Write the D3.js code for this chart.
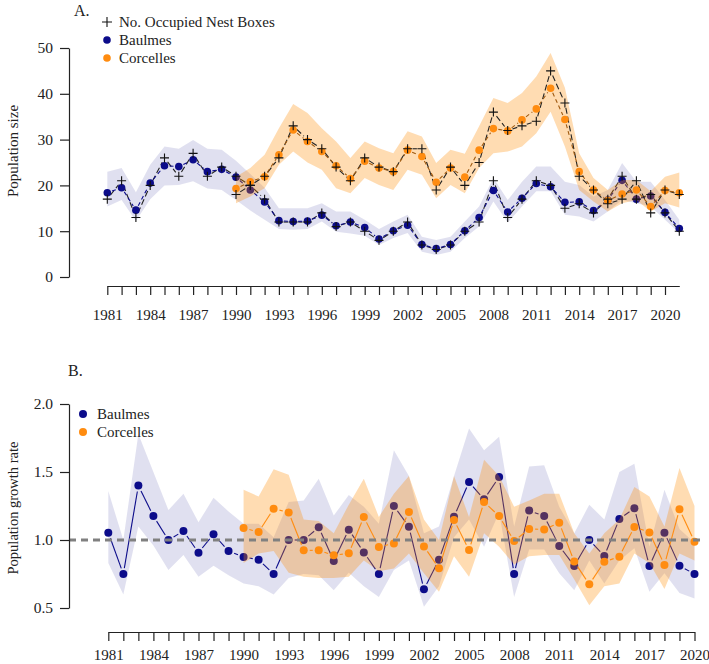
<!DOCTYPE html>
<html>
<head>
<meta charset="utf-8">
<script src="https://cdn.jsdelivr.net/npm/d3@7"></script>
<style>
  body { margin: 0; background: #fff; }
  svg { display: block; font-family: "Liberation Serif", "Times New Roman", serif; }
</style>
</head>
<body>
<div id="chart"></div>
<script>
// panel A: population size, 1981-2021
var yearsA = [1981, 1982, 1983, 1984, 1985, 1986, 1987, 1988, 1989, 1990,
  1991, 1992, 1993, 1994, 1995, 1996, 1997, 1998, 1999, 2000,
  2001, 2002, 2003, 2004, 2005, 2006, 2007, 2008, 2009, 2010,
  2011, 2012, 2013, 2014, 2015, 2016, 2017, 2018, 2019, 2020, 2021];
var yearsCorcA = yearsA.slice(9);

var baulmesA = [18.4, 19.5, 14.6, 20.5, 24.3, 24.1, 25.6, 23.0, 23.5, 21.8,
  19.0, 16.4, 12.3, 12.1, 12.2, 13.5, 11.2, 12.0, 10.8, 8.3,
  10.1, 11.3, 7.1, 6.2, 7.1, 10.1, 13.0, 18.9, 14.2, 17.2,
  20.4, 19.7, 16.3, 16.4, 14.5, 16.8, 21.1, 17.0, 17.7, 14.1, 10.6];
var baulmesLoA = [15.4, 16.8, 12.2, 17.0, 20.0, 20.1, 20.9, 19.3, 19.0, 16.8,
  14.5, 12.5, 10.5, 10.3, 10.5, 12.1, 9.9, 9.5, 9.0, 7.0,
  8.5, 9.6, 5.5, 4.8, 5.5, 8.5, 11.0, 16.5, 11.9, 15.4,
  18.7, 18.7, 13.6, 13.2, 12.1, 14.3, 16.8, 16.1, 15.4, 12.5, 9.6];
var baulmesHiA = [23.0, 23.8, 18.5, 24.5, 28.5, 28.0, 29.9, 28.0, 27.8, 25.4,
  22.5, 19.5, 15.0, 15.0, 15.0, 16.1, 14.3, 14.3, 12.5, 10.5,
  12.1, 13.6, 8.8, 8.1, 8.8, 12.1, 15.4, 21.6, 16.8, 20.8,
  24.1, 24.1, 20.8, 20.1, 17.6, 19.0, 24.9, 20.8, 20.8, 16.8, 12.5];
var nestBaulmes = [17, 21, 13, 20, 26, 22, 27, 22, 24, 22,
  20, 17, 12, 12, 12, 14, 11, 12, 10, 8,
  10, 12, 7, 6, 7, 10, 12, 21, 13, 17,
  21, 20, 15, 16, 14, 17, 22, 17, 18, 14, 10];

var corcellesA = [19.3, 20.8, 21.9, 26.7, 32.1, 29.6, 27.4, 24.3, 21.5, 25.3,
  23.8, 23.0, 27.7, 26.3, 20.7, 23.8, 21.8, 27.7, 32.4, 31.9,
  34.3, 36.7, 41.2, 34.4, 23.0, 19.0, 16.7, 18.1, 19.0, 15.4, 18.9, 18.4];
var corcellesLoA = [16.1, 17.6, 19.4, 24.5, 27.4, 25.0, 23.4, 19.4, 18.3, 21.6,
  20.1, 19.0, 23.4, 22.3, 17.2, 20.1, 18.3, 23.8, 27.0, 27.4,
  28.5, 31.4, 36.1, 28.5, 19.0, 16.5, 14.3, 16.1, 16.8, 14.3, 16.1, 15.2];
var corcellesHiA = [21.9, 23.8, 26.7, 32.5, 37.8, 35.8, 32.5, 29.6, 26.0, 29.6,
  28.1, 27.0, 31.8, 30.7, 24.9, 27.8, 26.9, 32.9, 39.1, 38.0,
  40.2, 43.8, 48.9, 41.3, 27.0, 21.6, 19.0, 21.2, 21.2, 18.7, 21.9, 22.8];
var nestCorcelles = [18, 20, 22, 26, 33, 30, 28, 24, 21, 26,
  24, 23, 28, 28, 19, 24, 20, 25, 36, 32,
  33, 34, 45, 38, 22, 19, 16, 17, 21, 14, 19, 18];

// panel B: population growth rate, 1981-2020
var yearsB = yearsA.slice(0, 40);
var yearsCorcB = yearsB.slice(9);

var baulmesB = [1.054, 0.75, 1.40, 1.176, 1.0, 1.066, 0.907, 1.042, 0.919, 0.875,
  0.855, 0.75, 1.0, 1.0, 1.093, 0.846, 1.076, 0.909, 0.75, 1.25,
  1.098, 0.637, 0.855, 1.171, 1.426, 1.299, 1.463, 0.75, 1.216, 1.176,
  0.956, 0.809, 1.0, 0.882, 1.154, 1.233, 0.809, 1.054, 0.81, 0.75];
var baulmesLoB = [0.83, 0.60, 1.10, 0.96, 0.78, 0.89, 0.73, 0.81, 0.74, 0.68,
  0.66, 0.60, 0.72, 0.75, 0.74, 0.63, 0.76, 0.66, 0.58, 0.78,
  0.85, 0.51, 0.66, 1.02, 1.15, 0.95, 1.20, 0.58, 0.93, 0.93,
  0.755, 0.63, 0.85, 0.68, 0.85, 0.94, 0.62, 0.755, 0.61, 0.57];
var baulmesHiB = [1.36, 1.0, 1.78, 1.50, 1.22, 1.34, 1.13, 1.31, 1.21, 1.12,
  1.12, 1.02, 1.28, 1.29, 1.45, 1.18, 1.33, 1.245, 1.12, 1.66,
  1.47, 1.05, 1.10, 1.47, 1.82, 1.66, 1.76, 1.10, 1.54, 1.55,
  1.245, 1.05, 1.26, 1.15, 1.50, 1.56, 0.95, 1.37, 1.08, 0.98];

var corcellesB = [1.088, 1.059, 1.23, 1.203, 0.924, 0.924, 0.887, 0.902, 1.169, 0.949,
  0.975, 1.206, 0.953, 0.792, 1.147, 0.926, 1.279, 1.176, 0.993, 1.081,
  1.078, 1.127, 0.841, 0.674, 0.84, 0.877, 1.096, 1.056, 0.816, 1.226, 0.988];
var corcellesLoB = [0.83, 0.90, 0.92, 0.76, 0.73, 0.72, 0.72, 0.73, 0.85, 0.77,
  0.79, 0.90, 0.755, 0.62, 0.88, 0.73, 1.05, 0.95, 0.82, 0.88,
  0.89, 0.89, 0.71, 0.52, 0.66, 0.68, 0.90, 0.83, 0.64, 0.90, 0.85];
var corcellesHiB = [1.37, 1.32, 1.52, 1.48, 1.15, 1.14, 1.05, 1.26, 1.45, 1.17,
  1.34, 1.47, 1.15, 1.00, 1.47, 1.17, 1.59, 1.47, 1.245, 1.29,
  1.34, 1.34, 1.05, 0.90, 1.05, 1.15, 1.39, 1.32, 1.10, 1.53, 1.25];

var yTicksA = [0, 10, 20, 30, 40, 50];
var yTicksB = [0.5, 1.0, 1.5, 2.0];
var labelYears = [1981, 1984, 1987, 1990, 1993, 1996, 1999, 2002, 2005, 2008, 2011, 2014, 2017, 2020];

(function () {
  'use strict';

  var navy = "#0c0c8a",
    orange = "#ff8c10",
    ribbonNavy = "rgba(0, 0, 128, 0.12)",
    ribbonOrange = "rgba(255, 140, 0, 0.30)";

  var svg = d3.select("#chart")
    .append("svg")
    .attr("width", 709)
    .attr("height", 664);

  function zip(xs, a, b, c) {
    return xs.map(function (x, i) {
      return {x: x, v: a[i], lo: b ? b[i] : null, hi: c ? c[i] : null};
    });
  }

  // segments with gaps around points (like R type = "b")
  function gapLines(g, pts, x, y, gap, color, dash, width) {
    for (var i = 0; i < pts.length - 1; i++) {
      var x0 = x(pts[i].x), y0 = y(pts[i].v),
        x1 = x(pts[i + 1].x), y1 = y(pts[i + 1].v);
      var dx = x1 - x0, dy = y1 - y0, len = Math.sqrt(dx * dx + dy * dy);
      if (len <= 2 * gap) continue;
      var ux = dx / len, uy = dy / len;
      g.append("line")
        .attr("x1", x0 + ux * gap).attr("y1", y0 + uy * gap)
        .attr("x2", x1 - ux * gap).attr("y2", y1 - uy * gap)
        .attr("stroke", color)
        .attr("stroke-width", width)
        .attr("stroke-dasharray", dash);
    }
  }

  function ribbon(g, pts, x, y, fill) {
    var area = d3.area()
      .x(function (d) { return x(d.x); })
      .y0(function (d) { return y(d.lo); })
      .y1(function (d) { return y(d.hi); });
    g.append("path")
      .datum(pts)
      .attr("d", area)
      .attr("fill", fill)
      .attr("stroke", "none");
  }

  function dots(g, pts, x, y, r, color) {
    g.selectAll(null)
      .data(pts)
      .enter()
      .append("circle")
      .attr("cx", function (d) { return x(d.x); })
      .attr("cy", function (d) { return y(d.v); })
      .attr("r", r)
      .attr("fill", color);
  }

  function crosses(g, pts, x, y, s) {
    g.selectAll(null)
      .data(pts)
      .enter()
      .append("path")
      .attr("d", function (d) {
        var cx = x(d.x), cy = y(d.v);
        return "M" + (cx - s) + "," + cy + "H" + (cx + s) + "M" + cx + "," + (cy - s) + "V" + (cy + s);
      })
      .attr("stroke", "#111")
      .attr("stroke-width", 1.1)
      .attr("fill", "none");
  }

  function yearAxis(g, x, yPos, years, labelY) {
    var axis = d3.axisBottom(x)
      .tickValues(years)
      .tickSize(9)
      .tickSizeOuter(0)
      .tickFormat(function (d) { return labelYears.indexOf(d) >= 0 ? d : ""; });
    var ax = g.append("g")
      .attr("transform", "translate(0," + yPos + ")")
      .call(axis);
    ax.select(".domain").attr("stroke", "#222").attr("stroke-width", 1.2);
    ax.selectAll(".tick line").attr("stroke", "#222").attr("stroke-width", 1.2);
    ax.selectAll("text")
      .attr("y", labelY)
      .attr("dy", 0)
      .attr("fill", "#222")
      .style("font-size", "15px")
      .style("font-family", "Liberation Serif, serif");
  }

  function valueAxis(g, y, xPos, ticks, fmt) {
    var axis = d3.axisLeft(y)
      .tickValues(ticks)
      .tickSize(9)
      .tickSizeOuter(0)
      .tickFormat(fmt);
    var ax = g.append("g")
      .attr("transform", "translate(" + xPos + ",0)")
      .call(axis);
    ax.select(".domain").attr("stroke", "#222").attr("stroke-width", 1.2);
    ax.selectAll(".tick line").attr("stroke", "#222").attr("stroke-width", 1.2);
    ax.selectAll("text")
      .attr("x", -16)
      .attr("fill", "#222")
      .style("font-size", "15.5px")
      .style("font-family", "Liberation Serif, serif");
  }

  /* ---------- Panel A ---------- */
  var xA = d3.scaleLinear().domain([1981, 2021]).range([107.3, 679.3]);
  var yA = d3.scaleLinear().domain([0, 50]).range([277, 48]);
  var gA = svg.append("g");

  var bA = zip(yearsA, baulmesA, baulmesLoA, baulmesHiA);
  var cA = zip(yearsCorcA, corcellesA, corcellesLoA, corcellesHiA);
  var nbA = zip(yearsA, nestBaulmes);
  var ncA = zip(yearsCorcA, nestCorcelles);

  ribbon(gA, bA, xA, yA, ribbonNavy);
  gapLines(gA, nbA, xA, yA, 5, "#222", "6,3", 1.1);
  gapLines(gA, bA, xA, yA, 5, navy, "4,3", 1.1);
  dots(gA, bA, xA, yA, 3.8, navy);

  ribbon(gA, cA, xA, yA, ribbonOrange);
  gapLines(gA, ncA, xA, yA, 5, "#222", "6,3", 1.1);
  gapLines(gA, cA, xA, yA, 5, "#a05a10", "4,3", 1.1);
  dots(gA, cA, xA, yA, 3.8, orange);

  crosses(gA, nbA, xA, yA, 4.5);
  crosses(gA, ncA, xA, yA, 4.5);

  valueAxis(gA, yA, 69, yTicksA, d3.format("d"));
  yearAxis(gA, xA, 286, yearsA.slice(0, 40), 34);

  gA.append("text")
    .attr("transform", "translate(18,151) rotate(-90)")
    .attr("text-anchor", "middle")
    .style("font-size", "15px")
    .attr("fill", "#222")
    .text("Population size");

  gA.append("text")
    .attr("x", 74).attr("y", 16)
    .style("font-size", "16px")
    .attr("fill", "#222")
    .text("A.");

  // legend A
  var legA = gA.append("g");
  legA.append("path")
    .attr("d", "M102,22H112M107,17V27")
    .attr("stroke", "#111").attr("stroke-width", 1.1);
  legA.append("circle").attr("cx", 107).attr("cy", 40).attr("r", 3.8).attr("fill", navy);
  legA.append("circle").attr("cx", 107).attr("cy", 58).attr("r", 3.8).attr("fill", orange);
  [["No. Occupied Nest Boxes", 27], ["Baulmes", 45], ["Corcelles", 63]].forEach(function (d) {
    legA.append("text")
      .attr("x", 119).attr("y", d[1])
      .style("font-size", "15px")
      .attr("fill", "#222")
      .text(d[0]);
  });

  /* ---------- Panel B ---------- */
  var xB = d3.scaleLinear().domain([1981, 2020]).range([108.3, 694.5]);
  var yB = d3.scaleLinear().domain([0.5, 2.0]).range([608, 404]);
  var gB = svg.append("g");

  var bB = zip(yearsB, baulmesB, baulmesLoB, baulmesHiB);
  var cB = zip(yearsCorcB, corcellesB, corcellesLoB, corcellesHiB);

  ribbon(gB, bB, xB, yB, ribbonNavy);
  gapLines(gB, bB, xB, yB, 6, navy, null, 1.1);
  dots(gB, bB, xB, yB, 4, navy);

  ribbon(gB, cB, xB, yB, ribbonOrange);
  gapLines(gB, cB, xB, yB, 6, orange, null, 1.1);
  dots(gB, cB, xB, yB, 4, orange);

  gB.append("line")
    .attr("x1", 69).attr("x2", 703)
    .attr("y1", yB(1)).attr("y2", yB(1))
    .attr("stroke", "#808080")
    .attr("stroke-width", 3)
    .attr("stroke-dasharray", "7,5");

  valueAxis(gB, yB, 69, yTicksB, d3.format(".1f"));
  yearAxis(gB, xB, 632, yearsB, 28);

  gB.append("text")
    .attr("transform", "translate(18,508) rotate(-90)")
    .attr("text-anchor", "middle")
    .style("font-size", "14.5px")
    .attr("fill", "#222")
    .text("Population growth rate");

  gB.append("text")
    .attr("x", 68).attr("y", 376)
    .style("font-size", "16px")
    .attr("fill", "#222")
    .text("B.");

  var legB = gB.append("g");
  legB.append("circle").attr("cx", 83).attr("cy", 414).attr("r", 4).attr("fill", navy);
  legB.append("circle").attr("cx", 83).attr("cy", 432).attr("r", 4).attr("fill", orange);
  [["Baulmes", 419], ["Corcelles", 437]].forEach(function (d) {
    legB.append("text")
      .attr("x", 97).attr("y", d[1])
      .style("font-size", "15px")
      .attr("fill", "#222")
      .text(d[0]);
  });
}());
</script>
</body>
</html>
